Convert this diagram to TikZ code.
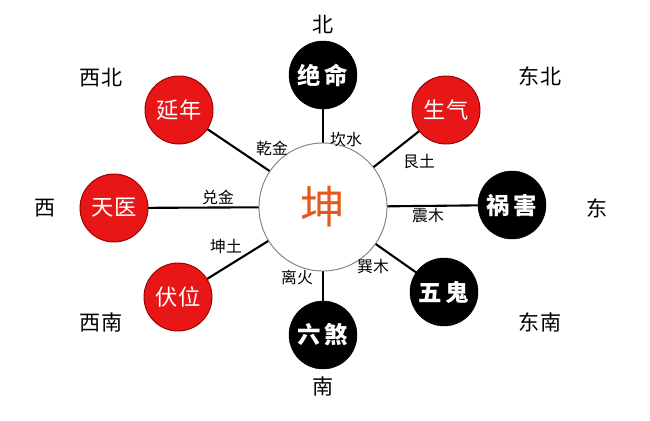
\documentclass[tikz,border=0pt]{standalone}
\usepackage{fontspec}
\setmainfont{Noto Sans CJK SC}
\usetikzlibrary{backgrounds}
\definecolor{myred}{RGB}{232,22,22}
\definecolor{myorange}{RGB}{226,90,30}
\begin{document}
\begin{tikzpicture}[x=0.03cm,y=-0.03cm,
  red/.style={circle,minimum size=68*0.03cm,fill=myred,draw=red!60!black,line width=0.8pt,text=white,font=\fontsize{19}{19}\selectfont,inner sep=0pt},
  blk/.style={circle,minimum size=68*0.03cm,fill=black,draw=black,text=white,font=\fontsize{20}{20}\selectfont\bfseries,inner sep=0pt},
  lab/.style={font=\fontsize{13.5}{13.5}\selectfont},
  dir/.style={font=\fontsize{18}{18}\selectfont},
  spoke/.style={line width=1.8pt}]
\useasboundingbox (0,0) rectangle (650,420);
\node[circle,draw=gray,line width=0.8pt,fill=white,minimum size=128*0.03cm,inner sep=0pt,text=myorange,font=\fontsize{38}{38}\selectfont] (c) at (323,207) {坤};
\node[blk] (jm) at (323,75) {绝\,命};
\node[red] (sq) at (446,110) {生气};
\node[blk] (hh) at (512,205) {祸\,害};
\node[blk] (wg) at (444,292) {五\,鬼};
\node[blk] (ls) at (323,335) {六\,煞};
\node[red] (fw) at (178,297) {伏位};
\node[red] (ty) at (114,208) {天医};
\node[red] (yn) at (179,110) {延年};
\begin{scope}[on background layer]
\foreach \n in {jm,sq,hh,wg,ls,fw,ty,yn} \draw[spoke] (c.center) -- (\n.center);
\end{scope}
\node[lab] (l1) at (272,148) {乾金};
\node[lab] (l2) at (346,140) {坎水};
\node[lab] (l3) at (419,162) {艮土};
\node[lab] (l4) at (218,197) {兑金};
\node[lab] (l5) at (428,216) {震木};
\node[lab] (l6) at (226,246) {坤土};
\node[lab] (l7) at (373,266) {巽木};
\node[lab] (l8) at (297,277) {离火};
\node[dir] (d1) at (323,25) {北};
\node[dir] (d2) at (540,76) {东北};
\node[dir] (d3) at (597,208) {东};
\node[dir] (d4) at (540,322) {东南};
\node[dir] (d5) at (323,386) {南};
\node[dir] (d6) at (101,322) {西南};
\node[dir] (d7) at (45,208) {西};
\node[dir] (d8) at (101,78) {西北};
\end{tikzpicture}
\end{document}
